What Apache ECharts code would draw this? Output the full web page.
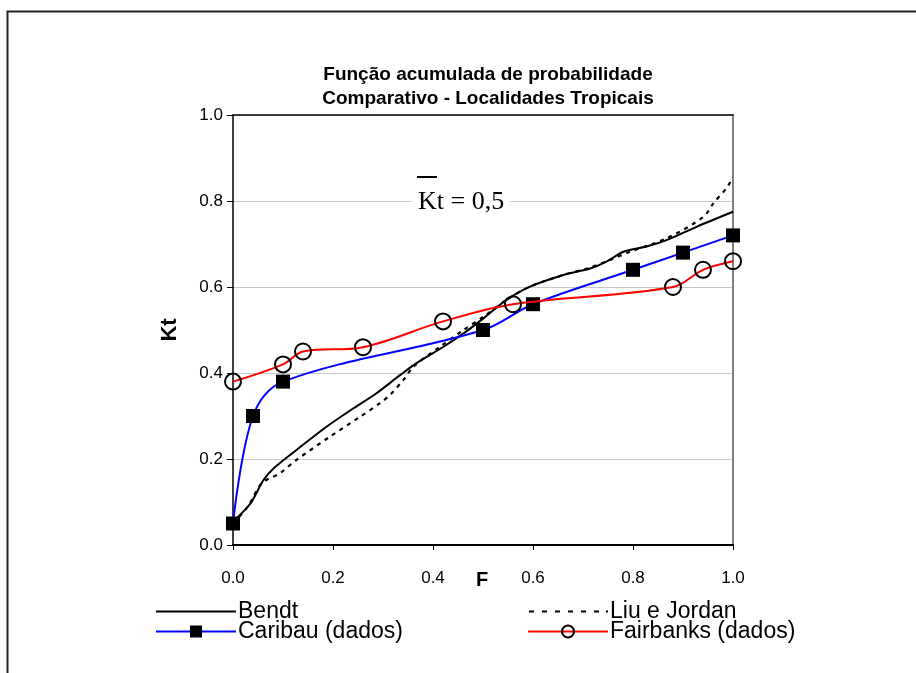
<!DOCTYPE html>
<html><head><meta charset="utf-8">
<script src="https://cdn.jsdelivr.net/npm/echarts@6/dist/echarts.min.js"></script>
<style>html,body{margin:0;padding:0;background:#fff}#c{width:916px;height:673px}</style>
</head><body><div id="c"></div>
<script>
const xTicks = [0, 0.2, 0.4, 0.6, 0.8, 1.0];
const yTicks = [0, 0.2, 0.4, 0.6, 0.8, 1.0];
const bendtF  = [0, 0.02, 0.037, 0.061, 0.081, 0.127, 0.187, 0.241, 0.287, 0.334, 0.367, 0.421, 0.461, 0.501, 0.547, 0.594, 0.661, 0.714, 0.747, 0.781, 0.827, 0.867, 0.927, 1.0];
const bendtKt = [0.054, 0.077, 0.10, 0.151, 0.178, 0.221, 0.275, 0.318, 0.353, 0.395, 0.423, 0.461, 0.492, 0.527, 0.570, 0.601, 0.628, 0.643, 0.659, 0.682, 0.694, 0.709, 0.740, 0.775];
const liuF  = [0, 0.03, 0.057, 0.094, 0.127, 0.194, 0.254, 0.294, 0.314, 0.341, 0.361, 0.414, 0.461, 0.501, 0.547, 0.594, 0.661, 0.714, 0.754, 0.794, 0.867, 0.941, 0.961, 0.987, 1.0];
const liuKt = [0.05, 0.09, 0.143, 0.167, 0.198, 0.252, 0.298, 0.330, 0.349, 0.384, 0.415, 0.461, 0.500, 0.531, 0.570, 0.601, 0.628, 0.645, 0.663, 0.682, 0.713, 0.763, 0.795, 0.830, 0.855];
const caribauF  = [0, 0.04, 0.10, 0.50, 0.60, 0.80, 0.90, 1.0];
const caribauKt = [0.05, 0.30, 0.38, 0.50, 0.56, 0.64, 0.68, 0.72];
const fairF  = [0, 0.10, 0.14, 0.26, 0.42, 0.56, 0.88, 0.94, 1.0];
const fairKt = [0.38, 0.42, 0.45, 0.46, 0.52, 0.56, 0.60, 0.64, 0.66];

const zip = (a, b) => a.map((v, i) => [v, b[i]]);
const chart = echarts.init(document.getElementById('c'), null, {renderer: 'canvas'});
const font = 'Arial, "Liberation Sans", sans-serif';
const legendText = {fontFamily: font, fontSize: 23, lineHeight: 20, color: '#000', padding: [0, 0, 0, -3]};
const solidIcon = 'path://M0,0h0.01v0.01h-0.01Z M0,6h80v2h-80Z M80,13.99h0.01v0.01h-0.01Z';
let dashPath = 'path://M0,0h0.01v0.01h-0.01Z M80,13.99h0.01v0.01h-0.01Z';
for (let x = 1; x < 78; x += 13) dashPath += ' M' + x + ',6h5v2h-5Z';
dashPath += ' M78,6h2v2h-2Z';
chart.setOption({
  animation: false,
  backgroundColor: '#fff',
  title: {
    text: 'Função acumulada de probabilidade\nComparativo - Localidades Tropicais',
    left: 483, top: 58, textAlign: 'center',
    textStyle: {fontFamily: font, fontWeight: 'bold', fontSize: 19, lineHeight: 24, color: '#000'}
  },
  grid: {left: 233, right: 183, top: 115, bottom: 128, show: false},
  legend: [
    {left: 155, top: 600, padding: 0, orient: 'vertical', itemWidth: 80, itemHeight: 15, itemGap: -3,
     data: [{name: 'Bendt', icon: solidIcon, itemStyle: {color: '#000', borderWidth: 0}}, 'Caribau (dados)'],
     textStyle: legendText},
    {left: 527, top: 600, padding: 0, orient: 'vertical', itemWidth: 80, itemHeight: 15, itemGap: -3,
     data: [{name: 'Liu e Jordan', icon: dashPath, itemStyle: {color: '#000', borderWidth: 0}}, 'Fairbanks (dados)'],
     textStyle: legendText}
  ],
  xAxis: [{
    type: 'value', min: 0, max: 1, interval: 0.2,
    name: 'F', nameLocation: 'middle', nameGap: 25, nameMoveOverlap: false,
    nameTextStyle: {fontFamily: font, fontWeight: 'bold', fontSize: 20, color: '#000', padding: [0, 0, 0, -2]},
    axisLine: {show: true, lineStyle: {color: '#000', width: 2}},
    axisTick: {show: true, inside: false, length: 5, lineStyle: {color: '#000', width: 1}},
    axisLabel: {fontFamily: font, fontSize: 17, color: '#000', margin: 25, formatter: v => v.toFixed(1)},
    splitLine: {show: false}
  }, {
    type: 'value', min: 0, max: 1, position: 'top',
    axisLine: {show: true, onZero: false, lineStyle: {color: '#000', width: 1.5}},
    axisTick: {show: false}, axisLabel: {show: false}, splitLine: {show: false}
  }],
  yAxis: [{
    type: 'value', min: 0, max: 1, interval: 0.2,
    name: 'Kt', nameLocation: 'middle', nameGap: 52, nameRotate: 90, nameMoveOverlap: false,
    nameTextStyle: {fontFamily: font, fontWeight: 'bold', fontSize: 22, color: '#000'},
    axisLine: {show: true, lineStyle: {color: '#000', width: 1.5}},
    axisTick: {show: true, inside: false, length: 6, lineStyle: {color: '#000', width: 1}},
    axisLabel: {fontFamily: font, fontSize: 17, color: '#000', margin: 10, formatter: v => v.toFixed(1)},
    splitLine: {show: true, lineStyle: {color: '#c8c8c8', width: 1.2}}
  }, {
    type: 'value', min: 0, max: 1, position: 'right',
    axisLine: {show: true, onZero: false, lineStyle: {color: '#808080', width: 2}},
    axisTick: {show: false}, axisLabel: {show: false}, splitLine: {show: false}
  }],
  series: [
    {name: 'Bendt', type: 'line', data: zip(bendtF, bendtKt), smooth: 0.3, showSymbol: false,
     lineStyle: {color: '#000', width: 2}, itemStyle: {color: '#000'}, z: 3},
    {name: 'Liu e Jordan', type: 'line', data: zip(liuF, liuKt), smooth: 0.3, showSymbol: false,
     lineStyle: {color: '#000', width: 2.2, type: [4, 5]}, itemStyle: {color: '#000'}, z: 2},
    {name: 'Caribau (dados)', type: 'line', data: zip(caribauF, caribauKt), smooth: 0.35,
     symbol: 'rect', symbolSize: 14, lineStyle: {color: '#0000ff', width: 2}, itemStyle: {color: '#000'}, z: 4},
    {name: 'Fairbanks (dados)', type: 'line', data: zip(fairF, fairKt), smooth: 0.35,
     symbol: 'circle', symbolSize: 16, lineStyle: {color: '#ff0000', width: 2},
     itemStyle: {color: 'rgba(255,255,255,0)', borderColor: '#000', borderWidth: 2}, z: 5}
  ],
  graphic: [
    {type: 'rect', left: 5, top: 9, shape: {width: 1000, height: 1000},
     style: {fill: 'none', stroke: '#222', lineWidth: 2}, silent: true},
    {type: 'text', left: 412, top: 189, z: 10,
     style: {text: 'Kt = 0,5', font: '26px "Liberation Serif", "Times New Roman", serif', fill: '#000',
             backgroundColor: '#fff', padding: [0, 6, 0, 6]}},
    {type: 'line', shape: {x1: 417, y1: 177, x2: 437, y2: 177}, z: 11,
     style: {stroke: '#000', lineWidth: 2}}
  ]
});
</script></body></html>
